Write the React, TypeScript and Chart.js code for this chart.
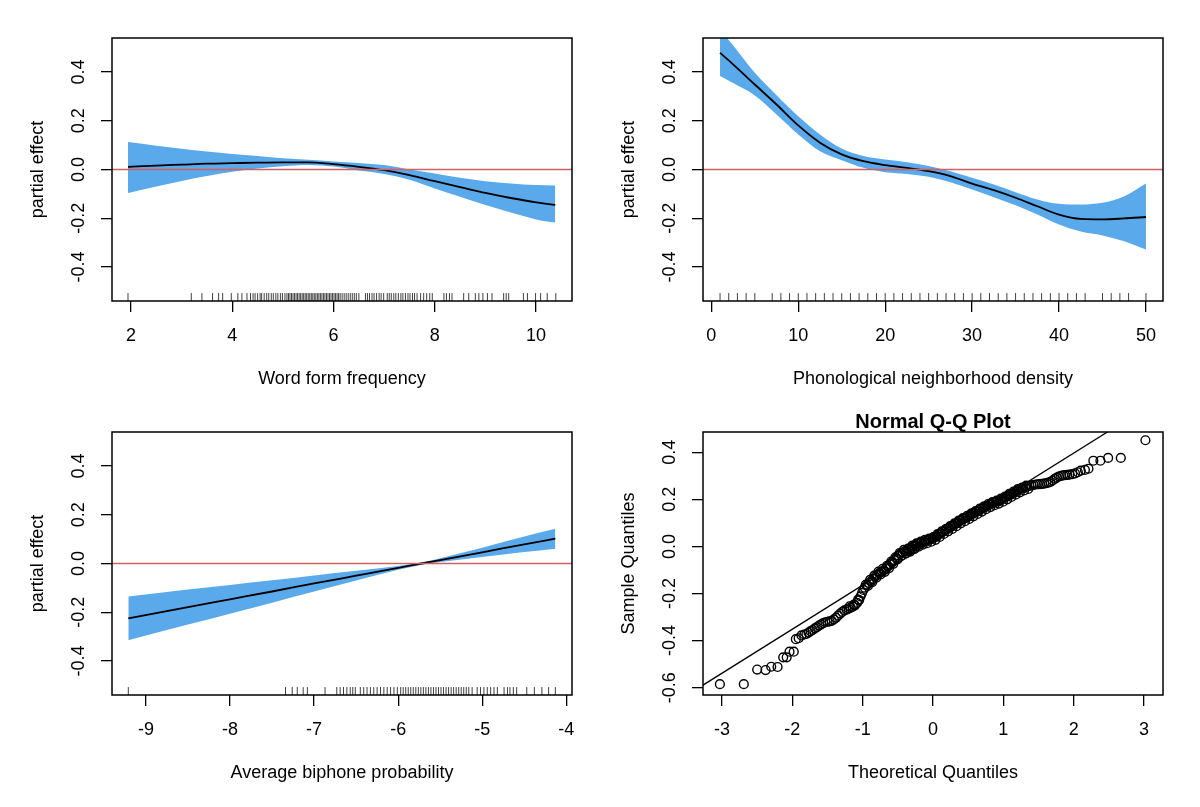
import React, { useEffect, useRef } from 'react';
import { Chart, registerables } from 'chart.js';

Chart.register(...registerables);

const FONT = "'Liberation Sans', Arial, Helvetica, sans-serif";
const BLUE = '#5aa9ea';
const RED = '#d06262';

// y axis shared by the three partial-effect panels
const effectTicks = [-0.4, -0.2, 0, 0.2, 0.4];
const effectRange = [-0.54, 0.54];

// word form frequency
const freqTicks = [2, 4, 6, 8, 10];
const freqRange = [1.624, 10.71];
const freqX = [1.94, 2.5, 3, 3.5, 4, 4.5, 5, 5.5, 6, 6.5, 7, 7.5, 8, 8.5, 9, 9.5, 10, 10.38];
const freqFit = [0.011, 0.016, 0.02, 0.024, 0.026, 0.028, 0.029, 0.029, 0.022, 0.011, -0.003, -0.023, -0.048, -0.072, -0.096, -0.117, -0.135, -0.145];
const freqUpper = [0.113, 0.098, 0.085, 0.074, 0.064, 0.055, 0.046, 0.04, 0.033, 0.027, 0.018, 0.0, -0.016, -0.034, -0.048, -0.057, -0.064, -0.066];
const freqLower = [-0.096, -0.07, -0.047, -0.027, -0.009, 0.004, 0.013, 0.018, 0.012, -0.004, -0.018, -0.042, -0.078, -0.112, -0.146, -0.177, -0.205, -0.218];
const freqRug = [1.94, 3.19, 3.4, 3.61, 3.73, 3.81, 3.98, 4.11, 4.19, 4.29, 4.36, 4.41, 4.45, 4.5, 4.55, 4.58, 4.63, 4.68, 4.72, 4.77, 4.81, 4.86, 4.9, 4.95, 4.99, 5.04, 5.08, 5.11, 5.14, 5.17, 5.2, 5.23, 5.26, 5.29, 5.32, 5.35, 5.38, 5.41, 5.44, 5.47, 5.5, 5.53, 5.56, 5.59, 5.62, 5.65, 5.68, 5.71, 5.74, 5.77, 5.8, 5.83, 5.86, 5.89, 5.92, 5.95, 5.98, 6.01, 6.04, 6.07, 6.1, 6.13, 6.17, 6.21, 6.25, 6.29, 6.33, 6.37, 6.41, 6.45, 6.5, 6.63, 6.67, 6.71, 6.76, 6.8, 6.85, 6.9, 6.94, 6.99, 7.06, 7.1, 7.14, 7.19, 7.23, 7.28, 7.33, 7.37, 7.42, 7.47, 7.51, 7.56, 7.6, 7.65, 7.72, 7.78, 7.84, 7.9, 7.95, 8.18, 8.23, 8.29, 8.34, 8.57, 8.67, 8.8, 8.87, 8.95, 9.04, 9.13, 9.36, 9.41, 9.46, 9.75, 9.83, 9.99, 10.09, 10.22, 10.39];

// phonological neighborhood density
const densTicks = [0, 10, 20, 30, 40, 50];
const densRange = [-0.96, 51.96];
const densX = [1, 2.5, 5, 7.5, 10, 12.5, 15, 17.5, 20, 22.5, 25, 27.5, 30, 32.5, 35, 37.5, 40, 42.5, 45, 47.5, 50];
const densFit = [0.479, 0.432, 0.349, 0.267, 0.181, 0.11, 0.062, 0.034, 0.018, 0.007, -0.007, -0.027, -0.058, -0.085, -0.116, -0.151, -0.185, -0.203, -0.205, -0.201, -0.195];
const densUpper = [0.575, 0.51, 0.397, 0.305, 0.219, 0.144, 0.086, 0.055, 0.041, 0.03, 0.014, -0.007, -0.034, -0.062, -0.093, -0.123, -0.141, -0.144, -0.137, -0.11, -0.058];
const densLower = [0.384, 0.355, 0.304, 0.226, 0.144, 0.075, 0.038, 0.007, -0.011, -0.018, -0.03, -0.052, -0.082, -0.114, -0.147, -0.185, -0.226, -0.255, -0.271, -0.295, -0.329];
const densRug = [1, 2, 3, 4, 5, 7, 8, 9, 10, 11, 12, 13, 14, 15, 16, 17, 18, 19, 20, 21, 22, 23, 24, 25, 26, 27, 28, 29, 30, 31, 32, 33, 34, 35, 36, 37, 38, 39, 40, 41, 42, 43, 45, 46, 47, 48, 50];

// average biphone probability
const biphTicks = [-9, -8, -7, -6, -5, -4];
const biphRange = [-9.404, -3.932];
const biphX = [-9.21, -8.5, -8, -7.5, -7, -6.5, -6, -5.72, -5.5, -5, -4.5, -4.13];
const biphFit = [-0.225, -0.179, -0.147, -0.115, -0.082, -0.05, -0.018, 0.0, 0.014, 0.046, 0.079, 0.102];
const biphUpper = [-0.135, -0.107, -0.088, -0.069, -0.049, -0.03, -0.01, 0.005, 0.022, 0.065, 0.111, 0.143];
const biphLower = [-0.315, -0.251, -0.206, -0.161, -0.115, -0.07, -0.026, -0.005, 0.006, 0.027, 0.047, 0.061];
const biphRug = [-9.21, -7.34, -7.26, -7.2, -7.13, -7.08, -6.87, -6.73, -6.69, -6.65, -6.61, -6.57, -6.54, -6.51, -6.45, -6.41, -6.37, -6.33, -6.29, -6.25, -6.21, -6.17, -6.13, -6.09, -6.05, -6.01, -5.97, -5.94, -5.91, -5.88, -5.85, -5.82, -5.79, -5.76, -5.73, -5.7, -5.67, -5.64, -5.61, -5.58, -5.55, -5.52, -5.49, -5.46, -5.43, -5.4, -5.37, -5.34, -5.31, -5.28, -5.25, -5.22, -5.19, -5.16, -5.12, -5.06, -5.02, -4.98, -4.94, -4.9, -4.86, -4.82, -4.74, -4.7, -4.67, -4.63, -4.59, -4.47, -4.38, -4.29, -4.21, -4.13];

// normal Q-Q plot of residuals: [theoretical, sample]
const qqXTicks = [-3, -2, -1, 0, 1, 2, 3];
const qqYTicks = [-0.6, -0.4, -0.2, 0, 0.2, 0.4];
const qqXRange = [-3.27, 3.27];
const qqYRange = [-0.631, 0.486];
const qqLineX = [-3.27, 2.48];
const qqLineY = [-0.589, 0.486];
const qqPoints: [number, number][] = [
  [-3.03, -0.585], [-2.69, -0.585], [-2.5, -0.523], [-2.38, -0.525], [-2.3, -0.511], [-2.21, -0.512],
  [-2.13, -0.471], [-2.08, -0.471], [-2.04, -0.447], [-1.98, -0.447], [-1.95, -0.394], [-1.91, -0.39],
  [-1.87, -0.378], [-1.83, -0.374], [-1.8, -0.372], [-1.77, -0.366], [-1.74, -0.36], [-1.71, -0.355],
  [-1.68, -0.348], [-1.65, -0.343], [-1.62, -0.336], [-1.59, -0.331], [-1.56, -0.326], [-1.53, -0.322],
  [-1.5, -0.32], [-1.47, -0.318], [-1.44, -0.316], [-1.41, -0.31], [-1.38, -0.303], [-1.35, -0.294],
  [-1.32, -0.285], [-1.29, -0.278], [-1.26, -0.272], [-1.23, -0.268], [-1.2, -0.264], [-1.17, -0.26],
  [-1.14, -0.256], [-1.11, -0.25], [-1.08, -0.24], [-1.05, -0.228], [-1.03, -0.212], [-1.01, -0.198],
  [-0.99, -0.185], [-0.97, -0.175], [-0.94, -0.164], [-0.91, -0.155], [-0.88, -0.148], [-0.85, -0.138],
  [-0.82, -0.128], [-0.79, -0.12], [-0.76, -0.113], [-0.73, -0.107], [-0.7, -0.102], [-0.67, -0.095],
  [-0.64, -0.085], [-0.61, -0.076], [-0.58, -0.068], [-0.55, -0.058], [-0.52, -0.048], [-0.49, -0.038],
  [-0.46, -0.03], [-0.43, -0.025], [-0.4, -0.021], [-0.37, -0.018], [-0.34, -0.014], [-0.31, -0.007],
  [-0.28, 0.0], [-0.25, 0.005], [-0.22, 0.01], [-0.19, 0.014], [-0.16, 0.018], [-0.13, 0.021],
  [-0.1, 0.024], [-0.07, 0.027], [-0.04, 0.031], [-0.01, 0.034], [0.02, 0.038], [0.05, 0.043],
  [0.08, 0.05], [0.11, 0.056], [0.14, 0.062], [0.17, 0.068], [0.2, 0.073], [0.23, 0.078],
  [0.26, 0.084], [0.29, 0.09], [0.32, 0.096], [0.35, 0.102], [0.38, 0.108], [0.41, 0.113],
  [0.44, 0.118], [0.47, 0.122], [0.5, 0.127], [0.53, 0.133], [0.56, 0.138], [0.59, 0.143],
  [0.62, 0.148], [0.65, 0.152], [0.68, 0.158], [0.71, 0.163], [0.74, 0.167], [0.77, 0.172],
  [0.8, 0.177], [0.83, 0.181], [0.86, 0.185], [0.89, 0.189], [0.92, 0.192], [0.95, 0.196],
  [0.98, 0.2], [1.01, 0.205], [1.04, 0.21], [1.07, 0.215], [1.1, 0.22], [1.13, 0.225],
  [1.16, 0.23], [1.19, 0.235], [1.22, 0.24], [1.25, 0.244], [1.28, 0.248], [1.31, 0.252],
  [1.34, 0.255], [1.37, 0.257], [1.4, 0.259], [1.43, 0.261], [1.46, 0.263], [1.49, 0.264],
  [1.52, 0.265], [1.55, 0.266], [1.58, 0.267], [1.61, 0.269], [1.64, 0.271], [1.67, 0.274],
  [1.7, 0.28], [1.73, 0.287], [1.76, 0.292], [1.79, 0.297], [1.82, 0.3], [1.85, 0.302],
  [1.88, 0.303], [1.91, 0.304], [1.94, 0.305], [1.98, 0.307], [2.02, 0.31], [2.06, 0.315],
  [2.1, 0.322], [2.16, 0.325], [2.21, 0.33], [2.28, 0.364], [2.38, 0.364], [2.49, 0.376],
  [2.67, 0.376], [3.02, 0.451],
  // the dense middle holds many more residuals, slightly above and below the first row
  [-1.185, -0.254], [-1.125, -0.247], [-1.065, -0.226], [-0.955, -0.162], [-0.895, -0.142], [-0.835, -0.124],
  [-0.775, -0.107], [-0.715, -0.095], [-0.655, -0.082], [-0.595, -0.064], [-0.535, -0.046], [-0.475, -0.028],
  [-0.415, -0.015], [-0.355, -0.009], [-0.295, 0.003], [-0.235, 0.013], [-0.175, 0.021], [-0.115, 0.028],
  [-0.055, 0.033], [0.005, 0.04], [0.065, 0.052], [0.125, 0.064], [0.185, 0.075], [0.245, 0.086],
  [0.305, 0.098], [0.365, 0.11], [0.425, 0.12], [0.485, 0.13], [0.545, 0.14], [0.605, 0.15],
  [0.665, 0.161], [0.725, 0.17], [0.785, 0.18], [0.845, 0.188], [0.905, 0.195], [0.965, 0.203],
  [1.025, 0.212], [1.085, 0.223], [1.145, 0.233], [1.205, 0.243], [1.265, 0.25], [1.325, 0.258],
  [-0.925, -0.168], [-0.865, -0.152], [-0.805, -0.133], [-0.745, -0.119], [-0.685, -0.108], [-0.625, -0.092],
  [-0.565, -0.074], [-0.505, -0.055], [-0.445, -0.038], [-0.385, -0.03], [-0.325, -0.022], [-0.265, -0.011],
  [-0.205, -0.001], [-0.145, 0.008], [-0.085, 0.014], [-0.025, 0.02], [0.035, 0.028], [0.095, 0.04],
  [0.155, 0.053], [0.215, 0.064], [0.275, 0.074], [0.335, 0.086], [0.395, 0.098], [0.455, 0.107],
  [0.515, 0.117], [0.575, 0.128], [0.635, 0.138], [0.695, 0.148], [0.755, 0.158], [0.815, 0.167],
  [0.875, 0.175], [0.935, 0.182], [0.995, 0.19], [1.055, 0.2], [1.115, 0.21], [1.175, 0.22],
  [1.235, 0.23], [1.295, 0.238], [1.355, 0.244],
];

const font = (size: number, extra: any = {}) => ({ family: FONT, size, lineHeight: 1.2, ...extra });

const framePlugin = {
  id: 'frame',
  afterDraw(chart: any) {
    const { ctx, chartArea: a } = chart;
    ctx.save();
    ctx.strokeStyle = '#000';
    ctx.lineWidth = 1.5;
    ctx.strokeRect(a.left, a.top, a.right - a.left, a.bottom - a.top);
    ctx.restore();
  },
};

function xAxis(range: number[], ticks: number[], title: string) {
  return {
    type: 'linear',
    position: 'bottom',
    min: range[0],
    max: range[1],
    afterBuildTicks: (s: any) => { s.ticks = ticks.map((v) => ({ value: v })); },
    afterFit: (s: any) => { s.height = 99; },
    grid: { drawOnChartArea: false, drawTicks: true, tickLength: 11, color: '#000', lineWidth: 1.3 },
    border: { display: false },
    ticks: {
      autoSkip: false, minRotation: 0, maxRotation: 0, padding: 13, color: '#000',
      font: font(18), callback: (v: any) => String(v),
    },
    title: { display: true, text: title, color: '#000', font: font(18), padding: { top: 0, bottom: 10 } },
  };
}

function yAxis(range: number[], ticks: number[], title: string) {
  return {
    type: 'linear',
    position: 'left',
    min: range[0],
    max: range[1],
    afterBuildTicks: (s: any) => { s.ticks = ticks.map((v) => ({ value: v })); },
    afterFit: (s: any) => { s.width = 112; },
    grid: { drawOnChartArea: false, drawTicks: true, tickLength: 11, color: '#000', lineWidth: 1.3 },
    border: { display: false },
    ticks: {
      autoSkip: false, minRotation: 90, maxRotation: 90, crossAlign: 'center', padding: 6, color: '#000',
      font: font(18), callback: (v: any) => Number(v).toFixed(1),
    },
    title: { display: true, text: title, color: '#000', font: font(18), padding: { top: 27, bottom: 0 } },
  };
}

const pts = (xs: number[], ys: number[]) => xs.map((x, i) => ({ x, y: ys[i] }));

function effectConfig(
  xs: number[], fit: number[], upper: number[], lower: number[], rug: number[],
  xRange: number[], xTicks: number[], xTitle: string,
): any {
  const rugY = effectRange[0] + 0.015 * (effectRange[1] - effectRange[0]);
  return {
    type: 'line',
    data: {
      datasets: [
        {
          data: [{ x: xRange[0], y: 0 }, { x: xRange[1], y: 0 }],
          borderColor: RED, borderWidth: 1.5, pointRadius: 0, fill: false, order: 0,
        },
        {
          data: pts(xs, fit), borderColor: '#000', borderWidth: 1.8, pointRadius: 0,
          cubicInterpolationMode: 'monotone', fill: false, order: 1,
        },
        {
          data: rug.map((x) => ({ x, y: rugY })), showLine: false, pointStyle: 'line',
          pointRotation: 90, pointRadius: 4, pointBorderColor: 'rgba(0,0,0,0.75)', pointBorderWidth: 1, order: 2,
        },
        {
          data: pts(xs, upper), borderWidth: 0, borderColor: BLUE, backgroundColor: BLUE, pointRadius: 0,
          cubicInterpolationMode: 'monotone', fill: '+1', order: 3,
        },
        {
          data: pts(xs, lower), borderWidth: 0, borderColor: BLUE, pointRadius: 0,
          cubicInterpolationMode: 'monotone', fill: false, order: 4,
        },
      ],
    },
    options: {
      animation: false,
      responsive: false,
      events: [],
      layout: { padding: { top: 38, right: 28, left: 0, bottom: 0 } },
      scales: {
        x: xAxis(xRange, xTicks, xTitle),
        y: yAxis(effectRange, effectTicks, 'partial effect'),
      },
      plugins: { legend: { display: false }, tooltip: { enabled: false } },
    },
    plugins: [framePlugin],
  };
}

function qqConfig(): any {
  return {
    type: 'line',
    data: {
      datasets: [
        {
          data: pts(qqLineX, qqLineY), borderColor: '#000', borderWidth: 1.3, pointRadius: 0, fill: false, order: 0,
        },
        {
          data: qqPoints.map(([x, y]) => ({ x, y })), showLine: false, pointStyle: 'circle',
          pointRadius: 4.4, pointBorderWidth: 1.4, pointBorderColor: '#000',
          pointBackgroundColor: 'rgba(0,0,0,0)', order: 1,
        },
      ],
    },
    options: {
      animation: false,
      responsive: false,
      events: [],
      layout: { padding: { top: 0, right: 28, left: 0, bottom: 0 } },
      scales: {
        x: xAxis(qqXRange, qqXTicks, 'Theoretical Quantiles'),
        y: yAxis(qqYRange, qqYTicks, 'Sample Quantiles'),
      },
      plugins: {
        legend: { display: false },
        tooltip: { enabled: false },
        title: {
          display: true, text: 'Normal Q-Q Plot', fullSize: false, color: '#000',
          font: { family: FONT, size: 20, weight: 'bold', lineHeight: 1 },
          padding: { top: 18, bottom: 0 },
        },
      },
    },
    plugins: [framePlugin],
  };
}

function Panel({ left, top, make }: { left: number; top: number; make: () => any }) {
  const canvasRef = useRef<HTMLCanvasElement>(null);
  useEffect(() => {
    if (!canvasRef.current) return;
    const chart = new Chart(canvasRef.current, make());
    return () => chart.destroy();
  }, []);
  return (
    <canvas
      ref={canvasRef}
      width={600}
      height={400}
      style={{ position: 'absolute', left, top, width: 600, height: 400, display: 'block' }}
    />
  );
}

export default function App() {
  return (
    <div style={{ position: 'absolute', left: 0, top: 0, width: 1200, height: 807, background: '#fff', overflow: 'hidden' }}>
      <Panel left={0} top={0} make={() => effectConfig(freqX, freqFit, freqUpper, freqLower, freqRug, freqRange, freqTicks, 'Word form frequency')} />
      <Panel left={591} top={0} make={() => effectConfig(densX, densFit, densUpper, densLower, densRug, densRange, densTicks, 'Phonological neighborhood density')} />
      <Panel left={0} top={394} make={() => effectConfig(biphX, biphFit, biphUpper, biphLower, biphRug, biphRange, biphTicks, 'Average biphone probability')} />
      <Panel left={591} top={394} make={qqConfig} />
    </div>
  );
}
